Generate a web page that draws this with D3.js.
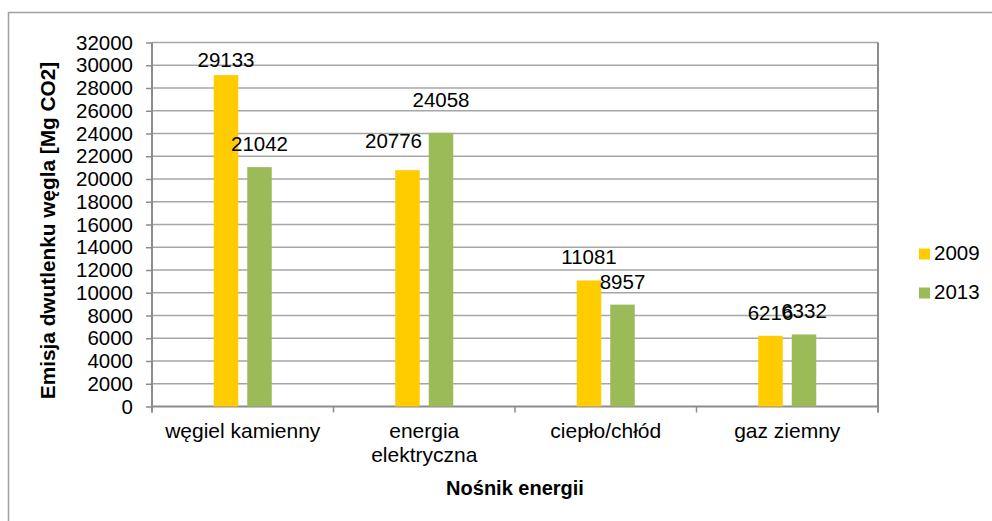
<!DOCTYPE html>
<html>
<head>
<meta charset="utf-8">
<script src="https://cdn.jsdelivr.net/npm/d3@7"></script>
<style>
  html, body { margin: 0; padding: 0; background: #fff; }
  svg { display: block; font-family: "Liberation Sans", Arial, sans-serif; }
</style>
</head>
<body>
<svg id="chart" width="992" height="521"></svg>
<script>
const categories = ["węgiel kamienny", "energia elektryczna", "ciepło/chłód", "gaz ziemny"];
const seriesNames = ["2009", "2013"];
const values2009 = [29133, 20776, 11081, 6216];
const values2013 = [21042, 24058, 8957, 6332];
const yTicks = [0, 2000, 4000, 6000, 8000, 10000, 12000, 14000, 16000, 18000, 20000, 22000, 24000, 26000, 28000, 30000, 32000];
const yTitle = "Emisja dwutlenku węgla [Mg CO2]";
const xTitle = "Nośnik energii";

const colors = { "2009": "#FFCC00", "2013": "#9BBB59" };

const svg = d3.select("#chart");
const plot = { left: 152, right: 878, top: 42.5, bottom: 406.5 };

// outer chart border
svg.append("rect")
  .attr("x", 8.5).attr("y", 12.5)
  .attr("width", 1000).attr("height", 600)
  .attr("fill", "none").attr("stroke", "#a0a0a0").attr("stroke-width", 1.5);

const y = d3.scaleLinear().domain([0, 32000]).range([plot.bottom, plot.top]);
const x0 = d3.scaleBand().domain(categories).range([plot.left, plot.right]);
const groupW = 58;
const x1 = d3.scaleBand().domain(seriesNames)
  .range([(x0.bandwidth() - groupW) / 2, (x0.bandwidth() + groupW) / 2])
  .paddingInner(0.2687);

// gridlines
svg.append("g").selectAll("line").data(yTicks.filter(d => d > 0)).join("line")
  .attr("x1", plot.left).attr("x2", plot.right)
  .attr("y1", d => y(d)).attr("y2", d => y(d))
  .attr("stroke", "#a6a6a6").attr("stroke-width", 1.4);

// y axis
const yAxis = d3.axisLeft(y).tickValues(yTicks).tickSize(6).tickPadding(13).tickFormat(d3.format("d"));
const gy = svg.append("g").attr("transform", `translate(${plot.left},0)`).call(yAxis);
gy.select(".domain").remove();
gy.selectAll(".tick line").attr("stroke", "#8c8c8c").attr("stroke-width", 1.5);
gy.selectAll(".tick text").attr("fill", "#000").attr("font-size", "20.5px")
  .attr("font-family", "'Liberation Sans', Arial, sans-serif");
svg.append("line").attr("x1", plot.left).attr("x2", plot.left)
  .attr("y1", plot.top).attr("y2", plot.bottom + 6)
  .attr("stroke", "#8c8c8c").attr("stroke-width", 2);

// right plot border
svg.append("line").attr("x1", plot.right).attr("x2", plot.right)
  .attr("y1", plot.top).attr("y2", plot.bottom + 6)
  .attr("stroke", "#8c8c8c").attr("stroke-width", 2);

// x axis line and category ticks
svg.append("line").attr("x1", plot.left).attr("x2", plot.right)
  .attr("y1", plot.bottom).attr("y2", plot.bottom)
  .attr("stroke", "#8c8c8c").attr("stroke-width", 2);
const tickXs = categories.map(c => x0(c)).concat([plot.right]);
svg.append("g").selectAll("line").data(tickXs).join("line")
  .attr("x1", d => d).attr("x2", d => d)
  .attr("y1", plot.bottom).attr("y2", plot.bottom + 6)
  .attr("stroke", "#8c8c8c").attr("stroke-width", 1.5);

// bars
const rows = categories.map((c, i) => ({ cat: c, vals: [
  { s: "2009", v: values2009[i] }, { s: "2013", v: values2013[i] }
]}));
const groups = svg.append("g").selectAll("g").data(rows).join("g")
  .attr("transform", d => `translate(${x0(d.cat)},0)`);
groups.selectAll("rect").data(d => d.vals).join("rect")
  .attr("x", d => x1(d.s)).attr("width", x1.bandwidth())
  .attr("y", d => y(d.v)).attr("height", d => y(0) - y(d.v))
  .attr("fill", d => colors[d.s]);

// value labels (Excel default offset above bar, a few were moved in the original)
const labelNudge = { "29133": [0, 8], "20776": [-14, -6], "24058": [0, -10] };
groups.selectAll("text").data(d => d.vals).join("text")
  .attr("x", d => x1(d.s) + x1.bandwidth() / 2 + ((labelNudge[d.v] || [0, 0])[0]))
  .attr("y", d => y(d.v) - 16 + ((labelNudge[d.v] || [0, 0])[1]))
  .attr("text-anchor", "middle").attr("font-size", "20.5px").attr("fill", "#000")
  .text(d => d.v);

// category labels
const catG = svg.append("g");
categories.forEach(c => {
  const t = catG.append("text")
    .attr("x", x0(c) + x0.bandwidth() / 2).attr("y", 438)
    .attr("text-anchor", "middle").attr("font-size", "21px").attr("fill", "#000");
  const words = c.split(" ");
  t.text(c);
  if (t.node().getComputedTextLength() > 168 && words.length > 1) {
    t.text(null);
    words.forEach((w, i) => {
      t.append("tspan").attr("x", x0(c) + x0.bandwidth() / 2)
        .attr("dy", i === 0 ? 0 : 23.5).text(w);
    });
  }
});

// axis titles
svg.append("text")
  .attr("x", (plot.left + plot.right) / 2).attr("y", 495)
  .attr("text-anchor", "middle").attr("font-size", "20px").attr("font-weight", "bold")
  .attr("fill", "#000").text(xTitle);
svg.append("text")
  .attr("transform", `translate(55,${(plot.top + plot.bottom) / 2 + 6}) rotate(-90)`)
  .attr("text-anchor", "middle").attr("font-size", "20.8px").attr("font-weight", "bold")
  .attr("fill", "#000").text(yTitle);

// legend
const legend = svg.append("g");
seriesNames.forEach((s, i) => {
  const yy = 248.5 + i * 39;
  legend.append("rect").attr("x", 919).attr("y", yy).attr("width", 11).attr("height", 11)
    .attr("fill", colors[s]);
  legend.append("text").attr("x", 934).attr("y", yy + 11.5)
    .attr("font-size", "20.5px").attr("fill", "#000").text(s);
});
</script>
</body>
</html>
